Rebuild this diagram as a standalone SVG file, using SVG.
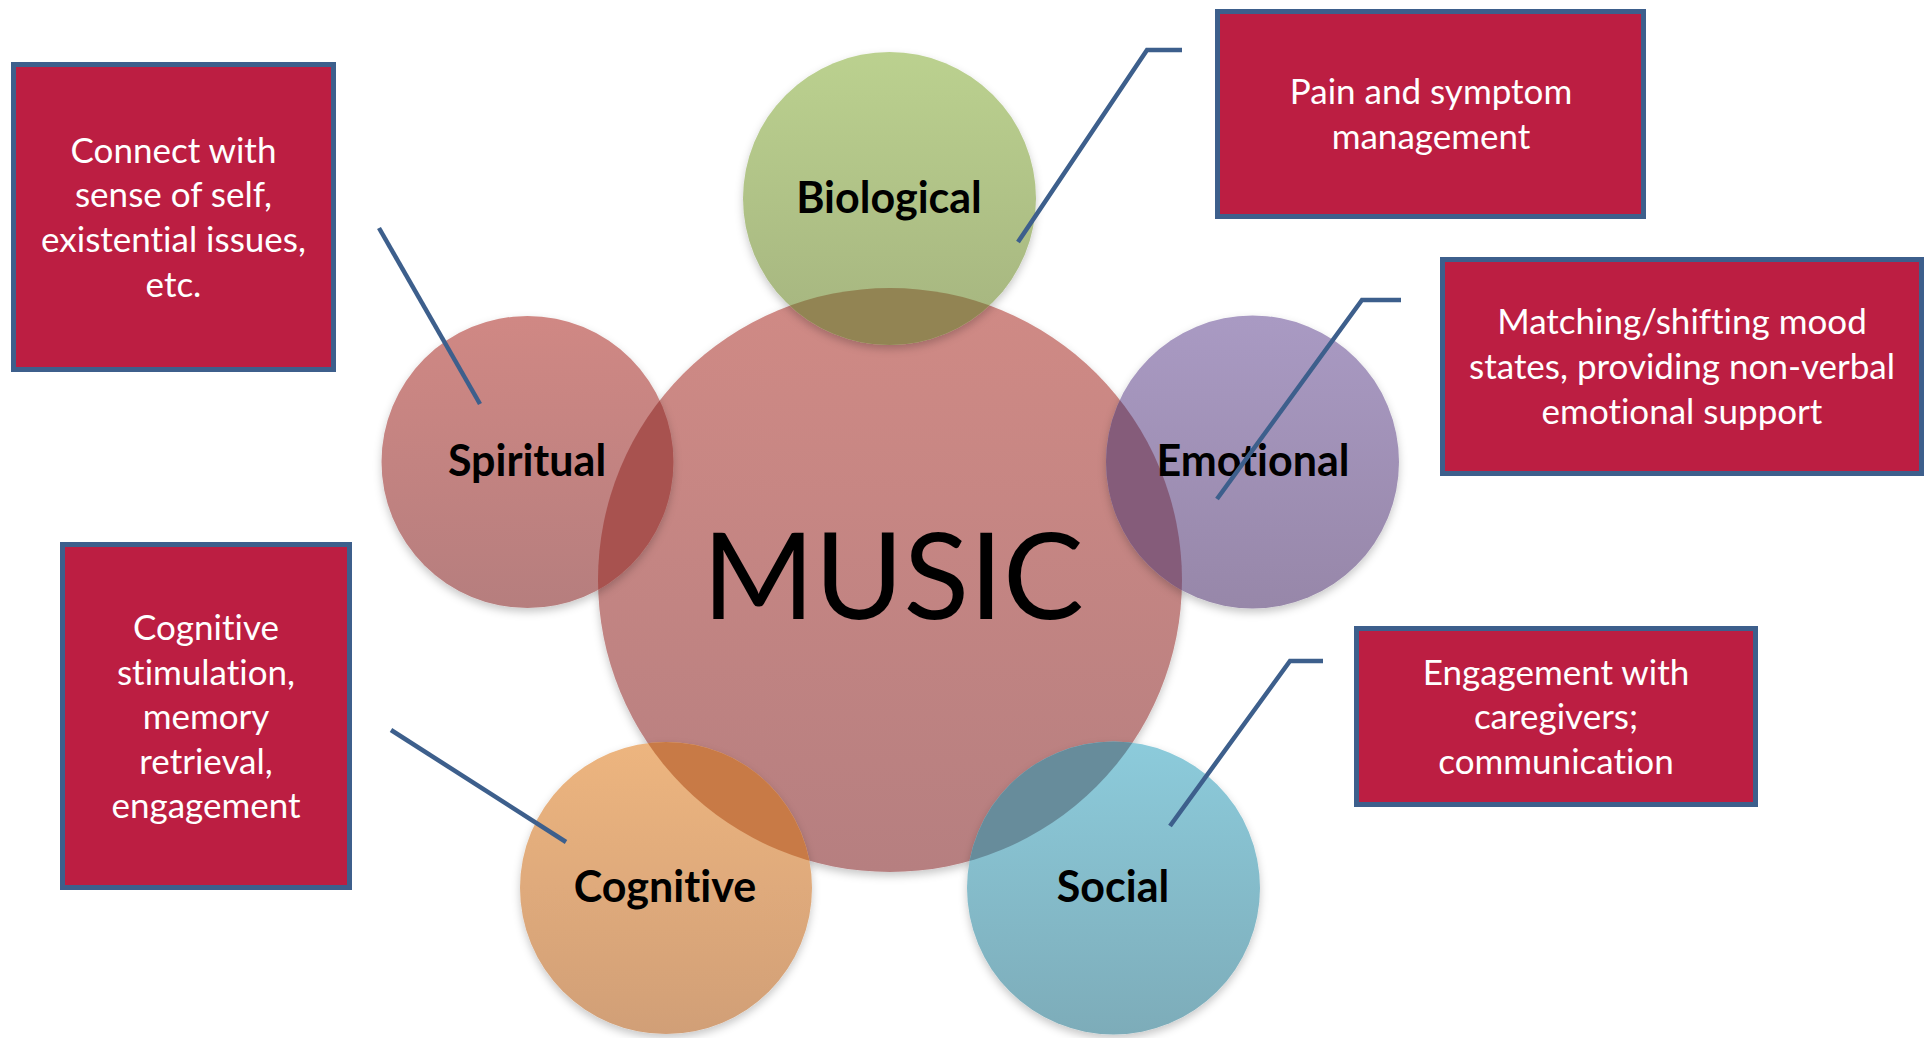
<svg xmlns="http://www.w3.org/2000/svg" width="1924" height="1038" viewBox="0 0 1924 1038">
  <style>
    text { font-variant-ligatures: none; font-feature-settings: "liga" 0, "clig" 0; }
    .box { fill: #BC1E42; stroke: #3D5F8C; stroke-width: 5; }
    .boxtext { font-family: Lato, "Open Sans", sans-serif; font-size: 35px; fill: #FFFFFF; text-anchor: middle; }
    .label { font-family: Lato, "Open Sans", sans-serif; font-weight: 700; font-size: 43px; fill: #000000; text-anchor: middle; }
    .title { font-family: Lato, "Open Sans", sans-serif; font-size: 121px; fill: #000000; text-anchor: middle; }
    .link { fill: none; stroke: #3D5F8C; stroke-width: 4.5; stroke-linejoin: miter; }
  </style>
  <defs>
    <linearGradient id="gMusic" x1="0" y1="0" x2="0" y2="1">
      <stop offset="0" stop-color="#D08A85"/>
      <stop offset="1" stop-color="#B67F80"/>
    </linearGradient>
    <linearGradient id="gBio" x1="0" y1="0" x2="0" y2="1">
      <stop offset="0" stop-color="#BBD18F"/>
      <stop offset="1" stop-color="#A5B47F"/>
    </linearGradient>
    <linearGradient id="gSpirit" x1="0" y1="0" x2="0" y2="1">
      <stop offset="0" stop-color="#D08884"/>
      <stop offset="1" stop-color="#B67E7E"/>
    </linearGradient>
    <linearGradient id="gEmo" x1="0" y1="0" x2="0" y2="1">
      <stop offset="0" stop-color="#A99AC3"/>
      <stop offset="1" stop-color="#9787A9"/>
    </linearGradient>
    <linearGradient id="gCog" x1="0" y1="0" x2="0" y2="1">
      <stop offset="0" stop-color="#EDB57F"/>
      <stop offset="1" stop-color="#D19F77"/>
    </linearGradient>
    <linearGradient id="gSoc" x1="0" y1="0" x2="0" y2="1">
      <stop offset="0" stop-color="#8CCBDB"/>
      <stop offset="1" stop-color="#7DACB9"/>
    </linearGradient>
    <clipPath id="clipMusic">
      <circle cx="890" cy="580" r="292"/>
    </clipPath>
    <filter id="soft" x="-10%" y="-10%" width="120%" height="125%">
      <feDropShadow dx="0" dy="4" stdDeviation="4" flood-color="#000000" flood-opacity="0.22"/>
    </filter>
  </defs>

  <rect x="0" y="0" width="1924" height="1038" fill="#FFFFFF"/>

  <!-- central circle -->
  <g id="music">
    <circle cx="890" cy="580" r="292" fill="url(#gMusic)" filter="url(#soft)"/>
    <text class="title" x="893" y="619">MUSIC</text>
  </g>

  <!-- outer circles; each darkens where it crosses the central one -->
  <g id="biological">
    <circle cx="889.5" cy="198.5" r="146.5" fill="url(#gBio)" filter="url(#soft)"/>
    <circle cx="889.5" cy="198.5" r="146.5" fill="#928453" clip-path="url(#clipMusic)"/>
    <text class="label" x="889" y="213">Biological</text>
  </g>

  <g id="spiritual">
    <circle cx="527.5" cy="462" r="146" fill="url(#gSpirit)" filter="url(#soft)"/>
    <circle cx="527.5" cy="462" r="146" fill="#A8524F" clip-path="url(#clipMusic)"/>
    <text class="label" x="527" y="476">Spiritual</text>
  </g>

  <g id="emotional">
    <circle cx="1252.5" cy="462" r="146.5" fill="url(#gEmo)" filter="url(#soft)"/>
    <circle cx="1252.5" cy="462" r="146.5" fill="#855C7A" clip-path="url(#clipMusic)"/>
    <text class="label" x="1253" y="476">Emotional</text>
  </g>

  <g id="cognitive">
    <circle cx="666" cy="888" r="146" fill="url(#gCog)" filter="url(#soft)"/>
    <circle cx="666" cy="888" r="146" fill="#C87A46" clip-path="url(#clipMusic)"/>
    <text class="label" x="665" y="902">Cognitive</text>
  </g>

  <g id="social">
    <circle cx="1113.5" cy="888" r="146.5" fill="url(#gSoc)" filter="url(#soft)"/>
    <circle cx="1113.5" cy="888" r="146.5" fill="#678C9B" clip-path="url(#clipMusic)"/>
    <text class="label" x="1113" y="902">Social</text>
  </g>

  <!-- callout boxes -->
  <g id="note-spiritual">
    <rect class="box" x="13.5" y="64.5" width="320" height="305"/>
    <text class="boxtext" x="173.5" y="163">Connect with</text>
    <text class="boxtext" x="173.5" y="207">sense of self,</text>
    <text class="boxtext" x="173.5" y="252">existential issues,</text>
    <text class="boxtext" x="173.5" y="297">etc.</text>
  </g>

  <g id="note-biological">
    <rect class="box" x="1217.5" y="11.5" width="426" height="205"/>
    <text class="boxtext" x="1431" y="104">Pain and symptom</text>
    <text class="boxtext" x="1431" y="149">management</text>
  </g>

  <g id="note-emotional">
    <rect class="box" x="1442.5" y="259.5" width="479" height="214"/>
    <text class="boxtext" x="1682" y="334">Matching/shifting mood</text>
    <text class="boxtext" x="1682" y="379">states, providing non-verbal</text>
    <text class="boxtext" x="1682" y="424">emotional support</text>
  </g>

  <g id="note-cognitive">
    <rect class="box" x="62.5" y="544.5" width="287" height="343"/>
    <text class="boxtext" x="206" y="640">Cognitive</text>
    <text class="boxtext" x="206" y="685">stimulation,</text>
    <text class="boxtext" x="206" y="729">memory</text>
    <text class="boxtext" x="206" y="774">retrieval,</text>
    <text class="boxtext" x="206" y="818">engagement</text>
  </g>

  <g id="note-social">
    <rect class="box" x="1356.5" y="628.5" width="399" height="176"/>
    <text class="boxtext" x="1556" y="685">Engagement with</text>
    <text class="boxtext" x="1556" y="729">caregivers;</text>
    <text class="boxtext" x="1556" y="774">communication</text>
  </g>

  <!-- leader lines from circles to their notes -->
  <g id="connectors">
    <line class="link" x1="379" y1="228" x2="480" y2="404"/>
    <polyline class="link" points="1182,50 1147,50 1018,242"/>
    <polyline class="link" points="1401,300 1362,300 1217,499"/>
    <line class="link" x1="391" y1="730" x2="566" y2="842"/>
    <polyline class="link" points="1323,661 1290,661 1170,826"/>
  </g>
</svg>
